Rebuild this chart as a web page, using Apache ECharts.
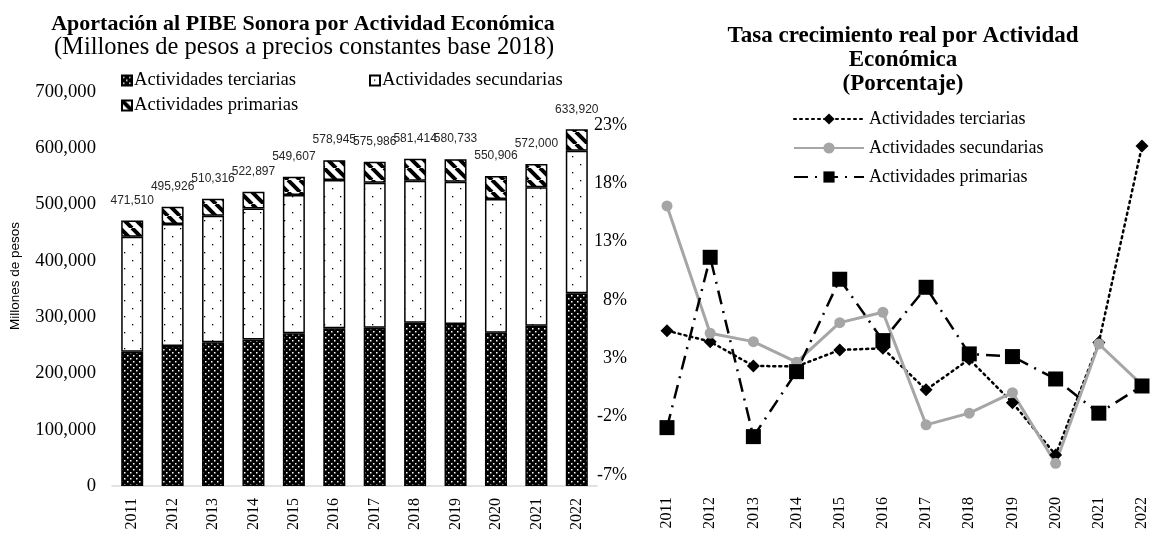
<!DOCTYPE html>
<html>
<head>
<meta charset="utf-8">
<script src="https://cdn.jsdelivr.net/npm/echarts@6/dist/echarts.min.js"></script>
<style>
html,body{margin:0;padding:0;background:#fff;}
#chart{width:1153px;height:535px;}
</style>
</head>
<body>
<div id="chart"></div>
<script>
// ---- data ----
const years = ['2011','2012','2013','2014','2015','2016','2017','2018','2019','2020','2021','2022'];
const terciarias  = [238500, 248700, 255200, 260500, 271200, 280100, 281200, 290100, 287700, 272300, 284700, 342300];
const secundarias = [204300, 216700, 224900, 232700, 245700, 263400, 257500, 252200, 252800, 237500, 245900, 253300];
const primarias   = [28710, 30526, 30216, 29697, 32707, 35445, 37286, 39114, 40233, 41106, 41400, 38320];
const totales     = [471510, 495926, 510316, 522897, 549607, 578945, 575986, 581414, 580733, 550906, 572000, 633920];

const tasaTerciarias  = [5.37, 4.43, 2.35, 2.3, 3.72, 3.86, 0.3, 2.93, -0.8, -5.28, 4.35, 21.2];
const tasaSecundarias = [16.06, 5.15, 4.43, 2.67, 6.06, 6.95, -2.7, -1.7, 0.06, -6.0, 4.23, 0.72];
const tasaPrimarias   = [-2.94, 11.66, -3.71, 1.86, 9.78, 4.52, 9.09, 3.38, 3.15, 1.23, -1.7, 0.63];

const leftAxis  = {min: 0, max: 700000, interval: 100000};
const rightAxis = {min: -7, max: 23, interval: 5};

// ---- patterns ----
function patTerc(){
  const c=document.createElement('canvas'); c.width=6; c.height=6;
  const x=c.getContext('2d'); x.fillStyle='#000'; x.fillRect(0,0,6,6);
  x.fillStyle='#fff'; x.fillRect(1,1,1.5,1.5); x.fillRect(4,4,1.5,1.5);
  return c;
}
function patSec(){
  const c=document.createElement('canvas'); c.width=16; c.height=16;
  const x=c.getContext('2d'); x.fillStyle='#fff'; x.fillRect(0,0,16,16);
  x.fillStyle='#000'; x.fillRect(4,4,1.3,1.3); x.fillRect(12,12,1.3,1.3);
  return c;
}
function patPrim(){
  const s=12;
  const c=document.createElement('canvas'); c.width=s; c.height=s;
  const x=c.getContext('2d'); x.fillStyle='#fff'; x.fillRect(0,0,s,s);
  x.strokeStyle='#000'; x.lineWidth=4;
  for(const o of [-s,0,s]){ x.beginPath(); x.moveTo(o,0); x.lineTo(o+s,s); x.stroke(); }
  return c;
}
const fillTerc={image:patTerc(),repeat:'repeat'};
const fillSec={image:patSec(),repeat:'repeat'};
const fillPrim={image:patPrim(),repeat:'repeat'};

const serif='"Liberation Serif","Times New Roman",serif';
const sans='"Liberation Sans",Arial,sans-serif';

const chart=echarts.init(document.getElementById('chart'),null,{renderer:'canvas'});
const barBorder={borderColor:'#000',borderWidth:1.5};
const legTxt={fontFamily:serif,fontSize:18.67,color:'#000',padding:[0,0,0,-3]};

chart.setOption({
  backgroundColor:'#fff',
  animation:false,
  title:[
    {text:'Aportación al PIBE Sonora por Actividad Económica',left:298,textAlign:'center',top:8,
     textStyle:{fontFamily:serif,fontSize:22,fontWeight:'bold',color:'#000'}},
    {text:'(Millones de pesos a precios constantes base 2018)',left:299,textAlign:'center',top:30,
     textStyle:{fontFamily:serif,fontSize:24.5,fontWeight:'normal',color:'#000'}},
    {text:'Tasa crecimiento real por Actividad\nEconómica\n(Porcentaje)',left:898,textAlign:'center',top:19,
     textStyle:{fontFamily:serif,fontSize:23,fontWeight:'bold',color:'#000',lineHeight:24}}
  ],
  legend:[
    {data:['Actividades terciarias'],left:116,top:66,itemWidth:10,itemHeight:10,icon:'rect',textStyle:legTxt},
    {data:['Actividades secundarias'],left:364,top:66,itemWidth:10,itemHeight:10,icon:'rect',textStyle:legTxt},
    {data:['Actividades primarias'],left:116,top:91,itemWidth:10,itemHeight:10,icon:'rect',textStyle:legTxt},
    {data:['Actividades terciarias ','Actividades secundarias ','Actividades primarias '],
     orient:'vertical',left:788,top:105,itemWidth:70,itemHeight:14,itemGap:11,
     textStyle:{fontFamily:serif,fontSize:18,color:'#000'}}
  ],
  grid:[
    {left:112,right:556,top:92,bottom:49},
    {left:667,right:11,top:125,bottom:60}
  ],
  xAxis:[
    {type:'category',gridIndex:0,data:years,boundaryGap:true,
     axisLine:{lineStyle:{color:'#d9d9d9',width:1.5}},axisTick:{show:false},
     axisLabel:{rotate:90,margin:12,fontFamily:serif,fontSize:16,color:'#000'}},
    {type:'category',gridIndex:1,data:years,boundaryGap:false,
     axisLine:{show:false},axisTick:{show:false},
     axisLabel:{rotate:90,margin:22,fontFamily:serif,fontSize:16,color:'#000'}}
  ],
  yAxis:[
    {type:'value',gridIndex:0,min:leftAxis.min,max:leftAxis.max,interval:leftAxis.interval,
     name:'Millones de pesos',nameLocation:'middle',nameGap:90,
     nameTextStyle:{fontFamily:sans,fontSize:13.5,color:'#000',padding:[0,0,0,26]},
     axisLine:{show:false},axisTick:{show:false},splitLine:{show:false},
     axisLabel:{margin:16,fontFamily:serif,fontSize:18.67,color:'#000',
       formatter:v=>v.toLocaleString('en-US')}},
    {type:'value',gridIndex:1,min:rightAxis.min,max:rightAxis.max,interval:rightAxis.interval,
     axisLine:{show:false},axisTick:{show:false},splitLine:{show:false},
     axisLabel:{margin:40,fontFamily:serif,fontSize:18,color:'#000',formatter:v=>v+'%'}}
  ],
  series:[
    {name:'Actividades terciarias',type:'bar',stack:'pib',xAxisIndex:0,yAxisIndex:0,barWidth:22,
     data:terciarias,itemStyle:Object.assign({color:fillTerc},barBorder)},
    {name:'Actividades secundarias',type:'bar',stack:'pib',xAxisIndex:0,yAxisIndex:0,barWidth:22,
     data:secundarias,itemStyle:Object.assign({color:fillSec},barBorder)},
    {name:'Actividades primarias',type:'bar',stack:'pib',xAxisIndex:0,yAxisIndex:0,barWidth:22,
     data:primarias,itemStyle:Object.assign({color:fillPrim},barBorder),
     label:{show:true,position:'top',distance:14,fontFamily:sans,fontSize:12,color:'#262626',
       formatter:p=>totales[p.dataIndex].toLocaleString('en-US')}},
    {name:'Actividades terciarias ',type:'line',xAxisIndex:1,yAxisIndex:1,data:tasaTerciarias,
     symbol:'diamond',symbolSize:13,itemStyle:{color:'#000'},
     lineStyle:{color:'#000',width:2.5,type:[2,4],cap:'round'}},
    {name:'Actividades secundarias ',type:'line',xAxisIndex:1,yAxisIndex:1,data:tasaSecundarias,
     symbol:'circle',symbolSize:11,itemStyle:{color:'#a6a6a6'},
     lineStyle:{color:'#a6a6a6',width:3}},
    {name:'Actividades primarias ',type:'line',xAxisIndex:1,yAxisIndex:1,data:tasaPrimarias,
     symbol:'rect',symbolSize:15,itemStyle:{color:'#000'},
     lineStyle:{color:'#000',width:2.5,type:[14,7,2,7]}}
  ]
});
</script>
</body>
</html>
